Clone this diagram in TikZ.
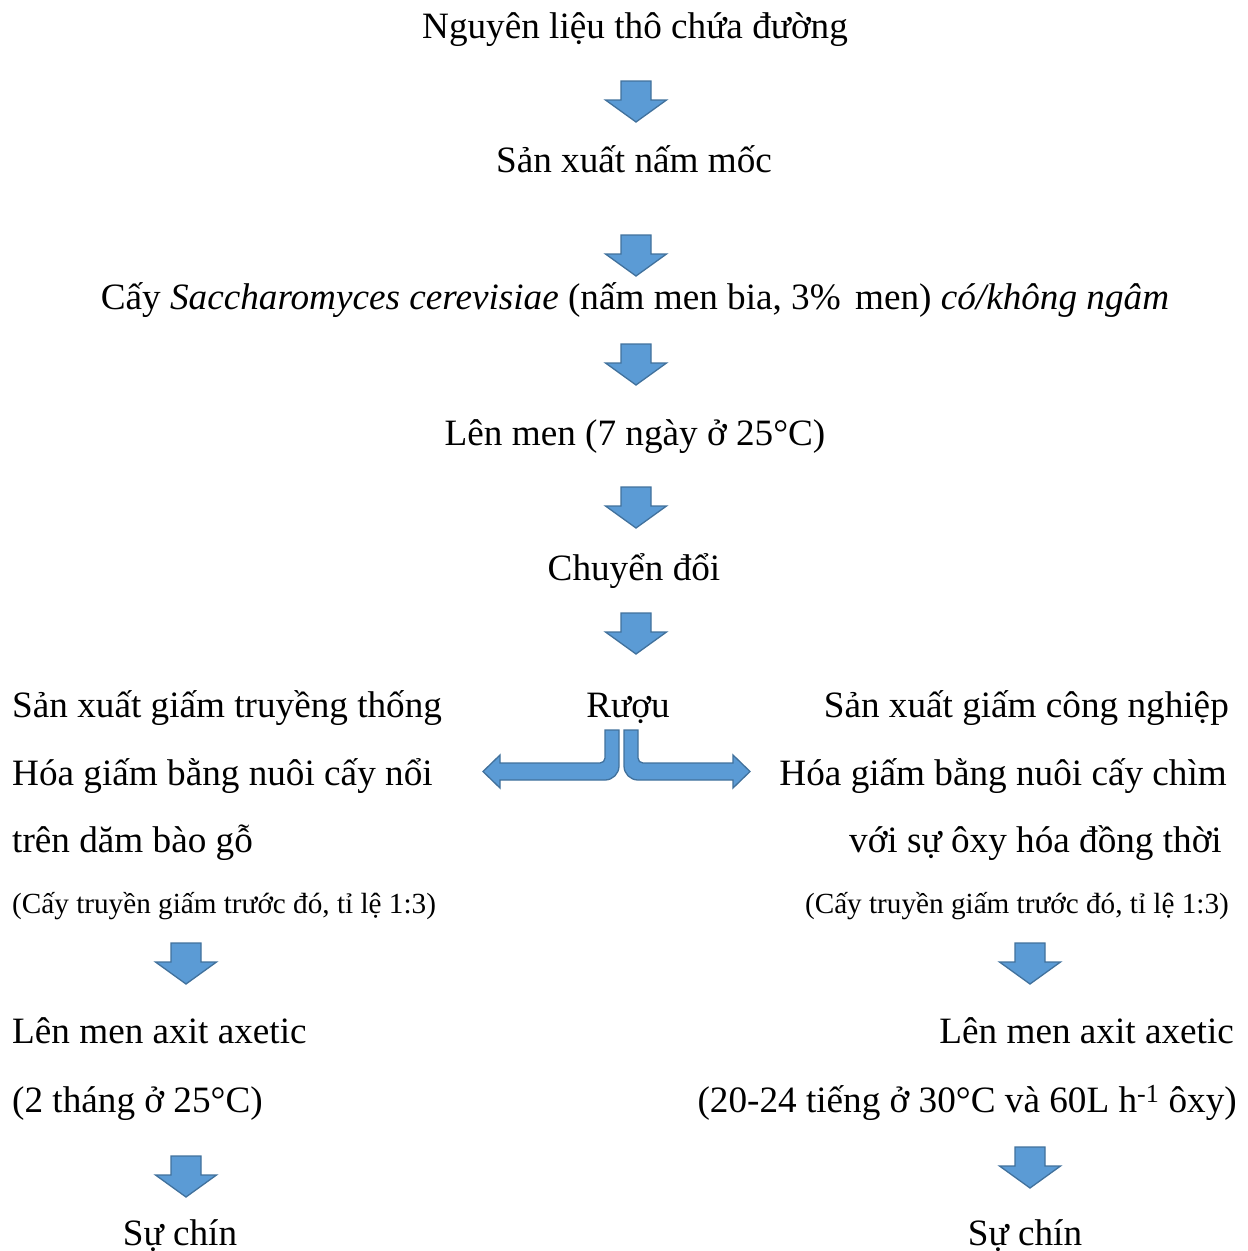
\documentclass[tikz,border=0pt]{standalone}
\usepackage{fontspec}
\setmainfont{Liberation Serif}
\definecolor{arrfill}{RGB}{91,155,213}
\definecolor{arrline}{RGB}{65,113,156}
\tikzset{
  blockarrow/.style={fill=arrfill,draw=arrline,line width=1.3pt,line join=miter},
  bigtxt/.style={inner sep=0pt,font=\fontsize{37.2}{44}\selectfont},
  smalltxt/.style={inner sep=0pt,font=\fontsize{29.2}{35}\selectfont},
  downarr/.pic={\draw[blockarrow] (-15,0) -- (15,0) -- (15,19) -- (30.5,19) -- (0,41) -- (-30.5,19) -- (-15,19) -- cycle;}
}
\begin{document}
\begin{tikzpicture}[x=1pt,y=-1pt]
\useasboundingbox (0,0) rectangle (1248,1251);
% main column
\node[bigtxt,anchor=base] (n1) at (635,38) {Nguyên liệu thô chứa đường};
\node[bigtxt,anchor=base] (n2) at (634,172) {Sản xuất nấm mốc};
\node[bigtxt,anchor=base] (n3) at (635,309) {Cấy \textit{Saccharomyces cerevisiae} (nấm men bia, 3\%\hspace{5pt} men) \textit{có/không ngâm}};
\node[bigtxt,anchor=base] (n4) at (635,445) {Lên men (7 ngày ở 25°C)};
\node[bigtxt,anchor=base] (n5) at (634,580) {Chuyển đổi};
\node[bigtxt,anchor=base] (n6) at (628,717) {Rượu};
\pic (a1) at (636,81) {downarr};
\pic (a2) at (636,235) {downarr};
\pic (a3) at (636,344) {downarr};
\pic (a4) at (636,487) {downarr};
\pic (a5) at (636,613) {downarr};
% split arrow
\draw[blockarrow] (605,730) -- (619,730) -- (619,766)
  .. controls (619,773.7) and (612.7,780) .. (605,780)
  -- (500,780) -- (500,788) -- (483,771.5) -- (500,755) -- (500,763) -- (600,763)
  .. controls (602.8,763) and (605,760.8) .. (605,758) -- cycle;
\draw[blockarrow] (638,730) -- (624,730) -- (624,766)
  .. controls (624,773.7) and (630.3,780) .. (638,780)
  -- (733,780) -- (733,788) -- (750,771.5) -- (733,755) -- (733,763) -- (643,763)
  .. controls (640.2,763) and (638,760.8) .. (638,758) -- cycle;
% left column
\node[bigtxt,anchor=base west] (l1) at (12,717) {Sản xuất giấm truyềng thống};
\node[bigtxt,anchor=base west] (l2) at (12,785) {Hóa giấm bằng nuôi cấy nổi};
\node[bigtxt,anchor=base west] (l3) at (12,852) {trên dăm bào gỗ};
\node[smalltxt,anchor=base west] (l4) at (12,913) {(Cấy truyền giấm trước đó, tỉ lệ 1:3)};
\pic (la1) at (186,943) {downarr};
\node[bigtxt,anchor=base west] (l5) at (12,1043) {Lên men axit axetic};
\node[bigtxt,anchor=base west] (l6) at (12,1112) {(2 tháng ở 25°C)};
\pic (la2) at (186,1156) {downarr};
\node[bigtxt,anchor=base] (l7) at (180,1245) {Sự chín};
% right column
\node[bigtxt,anchor=base east] (r1) at (1229,717) {Sản xuất giấm công nghiệp};
\node[bigtxt,anchor=base east] (r2) at (1227,785) {Hóa giấm bằng nuôi cấy chìm};
\node[bigtxt,anchor=base east] (r3) at (1222,852) {với sự ôxy hóa đồng thời};
\node[smalltxt,anchor=base east] (r4) at (1229,913) {(Cấy truyền giấm trước đó, tỉ lệ 1:3)};
\pic (ra1) at (1030,943) {downarr};
\node[bigtxt,anchor=base east] (r5) at (1234,1043) {Lên men axit axetic};
\node[bigtxt,anchor=base east] (r6) at (1237,1112) {(20-24 tiếng ở 30°C và 60L h\textsuperscript{-1} ôxy)};
\pic (ra2) at (1030,1147) {downarr};
\node[bigtxt,anchor=base] (r7) at (1025,1245) {Sự chín};
\end{tikzpicture}
\end{document}
